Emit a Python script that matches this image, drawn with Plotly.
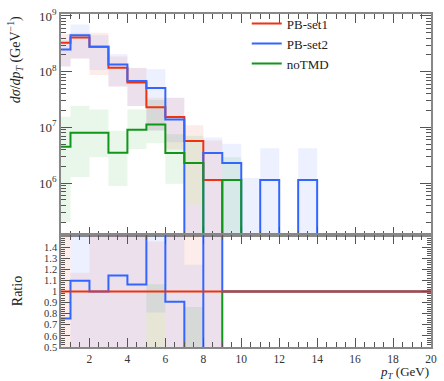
import plotly.graph_objects as go

# ---------------- data ----------------
edges = [0.5, 1, 2, 3, 4, 5, 6, 7, 8, 9, 10, 11, 12, 13, 14, 15, 16, 17, 18, 19, 20]

pb_set1 = [3.3e8, 4.1e8, 2.8e8, 1.18e8, 6.4e7, 2.3e7, 1.53e7, 5.7e6, 1.13e6, 0,
           0, 0, 0, 0, 0, 0, 0, 0, 0, 0]
pb_set2 = [2.5e8, 4.5e8, 2.8e8, 1.35e8, 6.8e7, 5.1e7, 1.39e7, 0, 3.46e6, 2.3e6,
           0, 1.13e6, 0, 1.13e6, 0, 0, 0, 0, 0, 0]
notmd = [4.5e6, 8.0e6, 8.0e6, 3.5e6, 9.1e6, 1.13e7, 3.46e6, 2.3e6, 0, 1.13e6,
         0, 0, 0, 0, 0, 0, 0, 0, 0, 0]

N = None
# uncertainty bands (0 = extends below the axis, None = no band)
pb_set1_lo = [1.24e8, 1.73e8, 8.7e7, 5.4e7, 2.43e7, 8.8e6, 4.0e6, 0, 0, N, N, N, N, N, N, N, N, N, N, N]
pb_set1_hi = [4.8e8, 5.0e8, 5.0e8, 1.87e8, 1.18e8, 3.4e7, 3.4e7, 1.09e7, 5.8e6, N, N, N, N, N, N, N, N, N, N, N]
pb_set2_lo = [1.24e8, 1.73e8, 1.07e8, 5.4e7, 2.43e7, 8.8e6, 5.4e6, 0, 0, 0, 0, 0, N, 0, N, N, N, N, N, N]
pb_set2_hi = [3.65e8, 7.0e8, 4.5e8, 2.06e8, 1.15e8, 1.1e8, 3.4e7, 4.1e5, 6.6e6, 5.1e6, 1.23e6, 4.2e6, N, 4.2e6, N, N, N, N, N, N]
notmd_lo = [2.0e5, 1.28e6, 2.9e6, 8.9e5, 4.1e6, 5.2e6, 9.7e5, 4.1e5, N, 0, N, N, N, N, N, N, N, N, N, N]
notmd_hi = [1.55e7, 2.45e7, 2.1e7, 8.7e6, 2.1e7, 3.1e7, 7.5e6, 7.1e6, N, 2.9e6, N, N, N, N, N, N, N, N, N, N]

# ratio-panel bands (0 = below the panel, 2 = above the panel)
r_set1_lo = [0, 0, 0, 0, 0, 0, 0, 0, 0, N, N, N, N, N, N, N, N, N, N, N]
r_set1_hi = [2, 1.17, 2, 2, 2, 1.45, 2, 2, 2, N, N, N, N, N, N, N, N, N, N, N]
r_set2_lo = [N, 0, 0, 0, 0, 0.81, 0, 0, 0, N, N, N, N, N, N, N, N, N, N, N]
r_set2_hi = [N, 2, 2, 2, 2, 2, 2, 1.24, 2, N, N, N, N, N, N, N, N, N, N, N]
r_notmd_lo = [N, N, N, N, N, 0, N, 0, N, N, N, N, N, N, N, N, N, N, N, N]
r_notmd_hi = [N, N, N, N, N, 1.065, N, 0.86, N, N, N, N, N, N, N, N, N, N, N, N]

names = ["PB-set1", "PB-set2", "noTMD"]
y_tickvals = [1e6, 1e7, 1e8, 1e9]
y_ticktext = ["10<sup>6</sup>", "10<sup>7</sup>", "10<sup>8</sup>", "10<sup>9</sup>"]
r_tickvals = [0.5, 0.6, 0.7, 0.8, 0.9, 1.0, 1.1, 1.2, 1.3, 1.4]
r_ticktext = ["0.5", "0.6", "0.7", "0.8", "0.9", "1", "1.1", "1.2", "1.3", "1.4"]
x_tickvals = [2, 4, 6, 8, 10, 12, 14, 16, 18, 20]

# ---------------- styling ----------------
LINE_COLORS = ["#EE3311", "#3366FF", "#109618"]
BAND_COLORS = ["rgba(238,51,17,0.09)", "rgba(51,102,255,0.09)", "rgba(16,150,24,0.09)"]
FONT = "Liberation Serif"
LOGMIN, LOGMAX = 5.06, 9.035
FLOOR_LOG = 10 ** (LOGMIN - 1.5)


def band_path(lo, hi, floor):
    xs, ys = [], []
    for i in range(len(lo)):
        if lo[i] is None or hi[i] is None:
            continue
        l = lo[i] if lo[i] > 0 else floor
        h = hi[i]
        x0, x1 = edges[i], edges[i + 1]
        xs += [x0, x1, x1, x0, x0, None]
        ys += [l, l, h, h, l, None]
    return xs, ys


def step_y(vals, floor=None):
    v = [(floor if (floor is not None and x <= 0) else x) for x in vals]
    return v + [v[-1]]


fig = go.Figure()

series = [pb_set1, pb_set2, notmd]
bands_top = [(pb_set1_lo, pb_set1_hi), (pb_set2_lo, pb_set2_hi), (notmd_lo, notmd_hi)]
bands_rat = [(r_set1_lo, r_set1_hi), (r_set2_lo, r_set2_hi), (r_notmd_lo, r_notmd_hi)]

for k in range(3):
    xs, ys = band_path(bands_top[k][0], bands_top[k][1], FLOOR_LOG)
    fig.add_trace(go.Scatter(x=xs, y=ys, fill="toself", fillcolor=BAND_COLORS[k],
                             line=dict(width=0), mode="lines", hoverinfo="skip",
                             showlegend=False, xaxis="x", yaxis="y"))
for k in range(3):
    xs, ys = band_path(bands_rat[k][0], bands_rat[k][1], -1)
    fig.add_trace(go.Scatter(x=xs, y=ys, fill="toself", fillcolor=BAND_COLORS[k],
                             line=dict(width=0), mode="lines", hoverinfo="skip",
                             showlegend=False, xaxis="x2", yaxis="y2"))

# main lines: red, blue, green (green on top)
for k in [0, 1, 2]:
    fig.add_trace(go.Scatter(x=edges, y=step_y(series[k], FLOOR_LOG), mode="lines",
                             line=dict(color=LINE_COLORS[k], width=2, shape="hv"),
                             name=names[k], legendrank=k + 1, xaxis="x", yaxis="y"))

# ratio lines (reference PB-set1 drawn last)
ref = pb_set1
for k in [2, 1, 0]:
    r = [(s / d if d > 0 else 1.0) for s, d in zip(series[k], ref)]
    fig.add_trace(go.Scatter(x=edges, y=r + [r[-1]], mode="lines",
                             line=dict(color=LINE_COLORS[k], width=2, shape="hv"),
                             showlegend=False, xaxis="x2", yaxis="y2"))

AX = dict(showline=True, linecolor="#888", linewidth=1.5, mirror="allticks",
          ticks="inside", tickcolor="#555", tickwidth=1, showgrid=False, zeroline=False,
          tickfont=dict(family=FONT, size=13, color="#333"))

fig.update_layout(
    width=444, height=381,
    margin=dict(l=61, r=7, t=10, b=34),
    paper_bgcolor="white", plot_bgcolor="white",
    font=dict(family=FONT, size=13, color="#222"),
    xaxis=dict(AX, domain=[0, 1], anchor="y", range=[0.5, 20], tickvals=x_tickvals,
               showticklabels=False, ticklen=9,
               minor=dict(dtick=0.5, tick0=0, ticklen=5, ticks="inside", tickcolor="#555")),
    yaxis=dict(AX, domain=[0.335, 1], anchor="x", type="log", range=[LOGMIN, LOGMAX],
               tickvals=y_tickvals, ticktext=y_ticktext, ticklen=11,
               minor=dict(tickvals=[m * 10 ** e for e in range(5, 9) for m in range(2, 10)],
                          ticklen=5, ticks="inside", tickcolor="#555")),
    xaxis2=dict(AX, domain=[0, 1], anchor="y2", range=[0.5, 20], tickvals=x_tickvals,
                ticklen=9, matches="x",
                tickfont=dict(family=FONT, size=11.5, color="#333"),
                minor=dict(dtick=0.5, tick0=0, ticklen=5, ticks="inside", tickcolor="#555")),
    yaxis2=dict(AX, domain=[0, 0.335], anchor="x2", range=[0.5, 1.505],
                tickvals=r_tickvals, ticktext=r_ticktext, ticklen=9,
                tickfont=dict(family=FONT, size=10.5, color="#333"),
                minor=dict(dtick=0.02, tick0=0, ticklen=4, ticks="inside", tickcolor="#555")),
    legend=dict(x=0.502, y=1.016, xanchor="left", yanchor="top", bgcolor="rgba(0,0,0,0)",
                font=dict(family=FONT, size=13, color="#222"), tracegroupgap=0,
                itemwidth=30),
    showlegend=True,
)

fig.add_annotation(text="<i>dσ</i>/<i>dp<sub>T</sub></i> (GeV<sup>−1</sup>)",
                   xref="paper", yref="paper", x=-0.125, y=1.0, xanchor="center",
                   yanchor="top", textangle=-90, showarrow=False,
                   font=dict(family=FONT, size=14, color="#222"))
fig.add_annotation(text="Ratio", xref="paper", yref="y2", x=-0.117, y=1.0,
                   xanchor="center", yanchor="middle", textangle=-90, showarrow=False,
                   font=dict(family=FONT, size=14, color="#222"))
fig.add_annotation(text="<i>p<sub>T</sub></i> (GeV)", xref="paper", yref="paper",
                   x=1.0, y=-0.077, xanchor="right", yanchor="middle", showarrow=False,
                   font=dict(family=FONT, size=13, color="#222"))

fig.write_html("out.html")
